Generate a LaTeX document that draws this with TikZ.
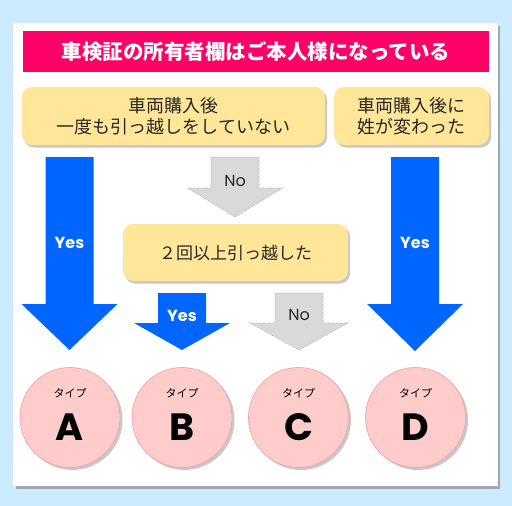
\documentclass[tikz,border=0pt]{standalone}
\usepackage{fontspec}
\newfontfamily\jp{Noto Sans CJK JP}
\newfontfamily\pop{Poppins}
\usetikzlibrary{shadows}
\definecolor{bgblue}{HTML}{CCEBFF}
\definecolor{titlepink}{HTML}{FF0066}
\definecolor{boxyellow}{HTML}{FFE699}
\definecolor{arrowblue}{HTML}{0066FF}
\definecolor{arrowgray}{HTML}{D9D9D9}
\definecolor{circlepink}{HTML}{FFCCCC}
\definecolor{circleedge}{HTML}{FF9999}
\newcommand\fatarrow[7]{%
  \path[#1] ({#2-#6},#3) -- ({#2+#6},#3) -- ({#2+#6},#4) -- ({#2+#7},#4)
    -- (#2,#5) -- ({#2-#7},#4) -- ({#2-#6},#4) -- cycle;}
\tikzset{
  yesarrow/.style={fill=arrowblue},
  noarrow/.style={fill=arrowgray, draw=gray!70, densely dotted, line width=0.6pt},
  yellowbox/.style={fill=boxyellow, rounded corners=10pt,
    drop shadow={shadow xshift=2pt, shadow yshift=-2.5pt, fill=black!30, opacity=0.7}},
  qtext/.style={font=\jp\fontsize{18}{21}\selectfont, align=center, text=black!85},
  yestext/.style={font=\pop\bfseries\fontsize{16}{18}\selectfont, text=white},
  notext/.style={font=\pop\fontsize{16}{18}\selectfont, text=black!85},
  typecircle/.style={circle, minimum size=100pt, inner sep=0pt, fill=circlepink, draw=circleedge, line width=0.6pt,
    drop shadow={shadow xshift=2.5pt, shadow yshift=-2.5pt, fill=black!30, opacity=0.7}},
  typesmall/.style={font=\jp\fontsize{11}{12}\selectfont},
  typebig/.style={font=\pop\bfseries\fontsize{38}{38}\selectfont},
}
\begin{document}
\begin{tikzpicture}[x=1pt, y=-1pt]
\useasboundingbox (0,0) rectangle (512,506);
\fill[bgblue] (0,0) rectangle (512,506);
% panel with shadow
\fill[black!35] (16,26) rectangle (500,489);
\fill[white] (13,23) rectangle (498,486);
% title
\fill[titlepink] (23,31) rectangle (489,72);
\node[font=\jp\bfseries\fontsize{20.5}{24}\selectfont, text=white] (title) at (256,52) {車検証の所有者欄はご本人様になっている};
% question boxes
\path[yellowbox] (22,87) rectangle (325,145);
\node[qtext] (q1) at (173.5,116.5) {車両購入後\\一度も引っ越しをしていない};
\path[yellowbox] (334,87) rectangle (489,145);
\node[qtext] (q2) at (411.5,116.5) {車両購入後に\\姓が変わった};
\path[yellowbox] (123,224) rectangle (348,281);
\node[qtext, font=\jp\fontsize{17}{20}\selectfont] (q3) at (235.5,253.5) {２回以上引っ越した};
% arrows
\fatarrow{yesarrow}{69.5}{157}{304}{350}{24}{48}
\node[yestext] (yesA) at (69.5,243) {Yes};
\fatarrow{yesarrow}{415}{157}{304}{351}{24}{48}
\node[yestext] (yesD) at (415,243) {Yes};
\fatarrow{noarrow}{235}{157}{188}{217}{24}{47.5}
\node[notext] (no1) at (235,181) {No};
\fatarrow{yesarrow}{182}{293}{323}{350}{24}{48}
\node[yestext] (yesB) at (182,316) {Yes};
\fatarrow{noarrow}{299}{293}{323}{350}{24}{49}
\node[notext] (no2) at (299,315) {No};
% result circles
\foreach \name/\cx in {A/70,B/182,C/298.5,D/415.5}{
  \node[typecircle] (c\name) at (\cx,417.5) {};
  \node[typesmall] (t\name) at (\cx,393) {タイプ};
  \node[typebig] (l\name) at (\cx,427) {\name};
}
\end{tikzpicture}
\end{document}
